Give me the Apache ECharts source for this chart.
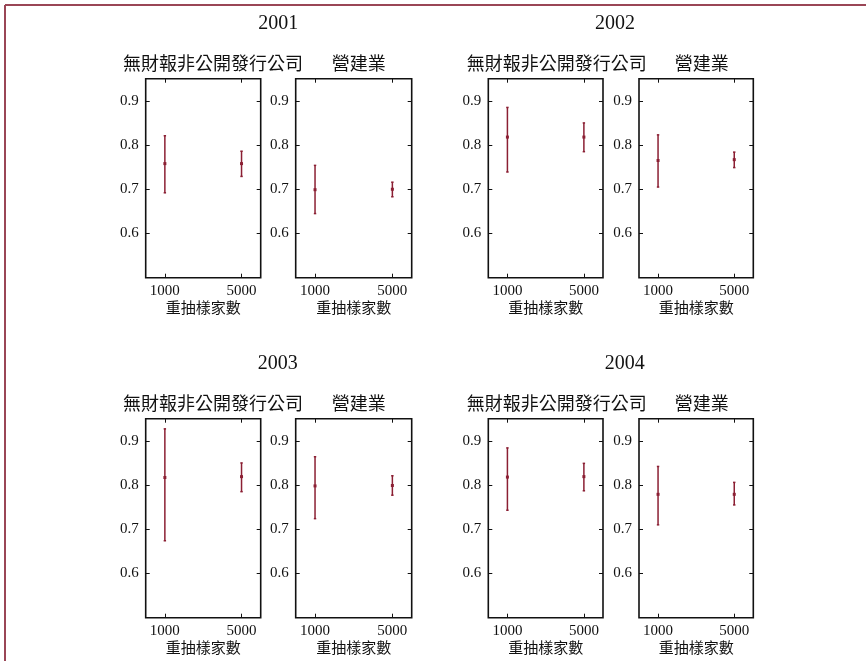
<!DOCTYPE html>
<html><head><meta charset="utf-8">
<script src="https://cdn.jsdelivr.net/npm/echarts@6/dist/echarts.min.js"></script>
<style>html,body{margin:0;padding:0;background:#fff}#c{width:866px;height:661px}</style>
</head><body><div id="c"></div>
<script>
// ---- data ----
const years = ['2001', '2002', '2003', '2004'];
const groups = ['無財報非公開發行公司', '營建業'];
const xAxisName = '重抽樣家數';
const sampleSizes = [1000, 5000];
const yTicks = [0.6, 0.7, 0.8, 0.9];
// per year: [value at 1000, value at 5000]
const meanNonPublic = [[0.758, 0.758], [0.818, 0.818], [0.817, 0.819], [0.818, 0.819]];
const lowNonPublic  = [[0.692, 0.729], [0.739, 0.785], [0.674, 0.785], [0.743, 0.787]];
const highNonPublic = [[0.821, 0.786], [0.885, 0.850], [0.927, 0.850], [0.884, 0.849]];
const meanConstruction = [[0.699, 0.700], [0.765, 0.767], [0.798, 0.799], [0.779, 0.779]];
const lowConstruction  = [[0.645, 0.683], [0.705, 0.749], [0.724, 0.777], [0.710, 0.755]];
const highConstruction = [[0.754, 0.716], [0.823, 0.784], [0.864, 0.821], [0.842, 0.806]];

// ---- layout ----
const rowTops = [78.7, 418.7];
const gridH = 199;
const colLefts = [[145.7, 115], [295.7, 116], [488.3, 114.7], [639, 114.3]];
const yearPos = [[278.3, 24], [615, 24], [277.7, 364], [624.8, 364]];
const subTitleX = [[213, 358.7], [556.7, 701.7], [213, 358.7], [556.7, 701.7]];

const serif = "'Liberation Serif','DejaVu Serif',serif";
const cjk = "'Noto Sans CJK TC','Noto Sans CJK SC',sans-serif";
const barColor = '#8b1f33';

const grids = [], xAxes = [], yAxes = [], series = [], graphics = [];

graphics.push({type:'line', shape:{x1:5, y1:5, x2:866, y2:5}, style:{stroke:'#9a4656', lineWidth:2}});
graphics.push({type:'line', shape:{x1:5, y1:5, x2:5, y2:661}, style:{stroke:'#9a4656', lineWidth:2}});

function renderErr(params, api) {
  const x = api.value(0), m = api.value(1), lo = api.value(2), hi = api.value(3);
  const pt = api.coord([x, hi]), pb = api.coord([x, lo]), pm = api.coord([x, m]);
  const st = {stroke: barColor, lineWidth: 1.5};
  return {type:'group', children:[
    {type:'line', shape:{x1:pt[0], y1:pt[1], x2:pb[0], y2:pb[1]}, style:st},
    {type:'line', shape:{x1:pt[0]-1.2, y1:pt[1], x2:pt[0]+1.2, y2:pt[1]}, style:st},
    {type:'line', shape:{x1:pb[0]-1.2, y1:pb[1], x2:pb[0]+1.2, y2:pb[1]}, style:st},
    {type:'rect', shape:{x:pm[0]-1.5, y:pm[1]-1.5, width:3, height:3}, style:{fill:barColor}}
  ]};
}

const tickStyle = {inside:true, length:4, lineStyle:{color:'#111', width:1}};
const hiddenLine = {show:false, onZero:false};

let gi = 0;
years.forEach((yr, yi) => {
  const row = yi < 2 ? 0 : 1;
  const colBase = (yi % 2) * 2;
  graphics.push({type:'text', x:yearPos[yi][0], y:yearPos[yi][1],
    style:{text:yr, font:'20px ' + serif, fill:'#111', textAlign:'center', textVerticalAlign:'middle'}});
  groups.forEach((g, k) => {
    const [left, width] = colLefts[colBase + k];
    const top = rowTops[row];
    graphics.push({type:'text', x:subTitleX[yi][k], y:top - 16,
      style:{text:g, font:'18px ' + cjk, fill:'#111', textAlign:'center', textVerticalAlign:'middle'}});
    grids.push({left:left, top:top, width:width, height:gridH, show:true,
      borderColor:'#111', borderWidth:1.6, backgroundColor:'#fff'});
    const commonX = {type:'value', gridIndex:gi, min:0, max:6000,
      splitLine:{show:false}, axisLine:hiddenLine};
    xAxes.push(Object.assign({}, commonX, {position:'bottom',
      name:xAxisName, nameLocation:'middle', nameGap:21,
      nameTextStyle:{fontFamily:cjk, fontSize:15, color:'#111', verticalAlign:'top'},
      axisTick:Object.assign({customValues:sampleSizes}, tickStyle),
      axisLabel:{customValues:sampleSizes, fontFamily:serif, fontSize:15, color:'#111', margin:6,
        formatter: v => String(v)}}));
    xAxes.push(Object.assign({}, commonX, {position:'top',
      axisTick:Object.assign({customValues:sampleSizes}, tickStyle),
      axisLabel:{show:false}}));
    const commonY = {type:'value', gridIndex:gi, min:0.5, max:0.95,
      splitLine:{show:false}, axisLine:hiddenLine};
    yAxes.push(Object.assign({}, commonY, {position:'left',
      axisTick:Object.assign({customValues:yTicks}, tickStyle),
      axisLabel:{customValues:yTicks, fontFamily:serif, fontSize:15, color:'#111', margin:7,
        formatter: v => v.toFixed(1)}}));
    yAxes.push(Object.assign({}, commonY, {position:'right',
      axisTick:Object.assign({customValues:yTicks}, tickStyle),
      axisLabel:{show:false}}));
    const mean = k === 0 ? meanNonPublic : meanConstruction;
    const low = k === 0 ? lowNonPublic : lowConstruction;
    const high = k === 0 ? highNonPublic : highConstruction;
    const data = sampleSizes.map((s, i) => [s, mean[yi][i], low[yi][i], high[yi][i]]);
    series.push({type:'custom', xAxisIndex:gi*2, yAxisIndex:gi*2, data:data,
      encode:{x:0, y:[1,2,3]}, renderItem:renderErr, clip:false, silent:true});
    gi++;
  });
});

const chart = echarts.init(document.getElementById('c'), null, {renderer:'canvas'});
chart.setOption({animation:false, backgroundColor:'#fff', grid:grids, xAxis:xAxes, yAxis:yAxes,
  series:series, graphic:graphics});
</script></body></html>
